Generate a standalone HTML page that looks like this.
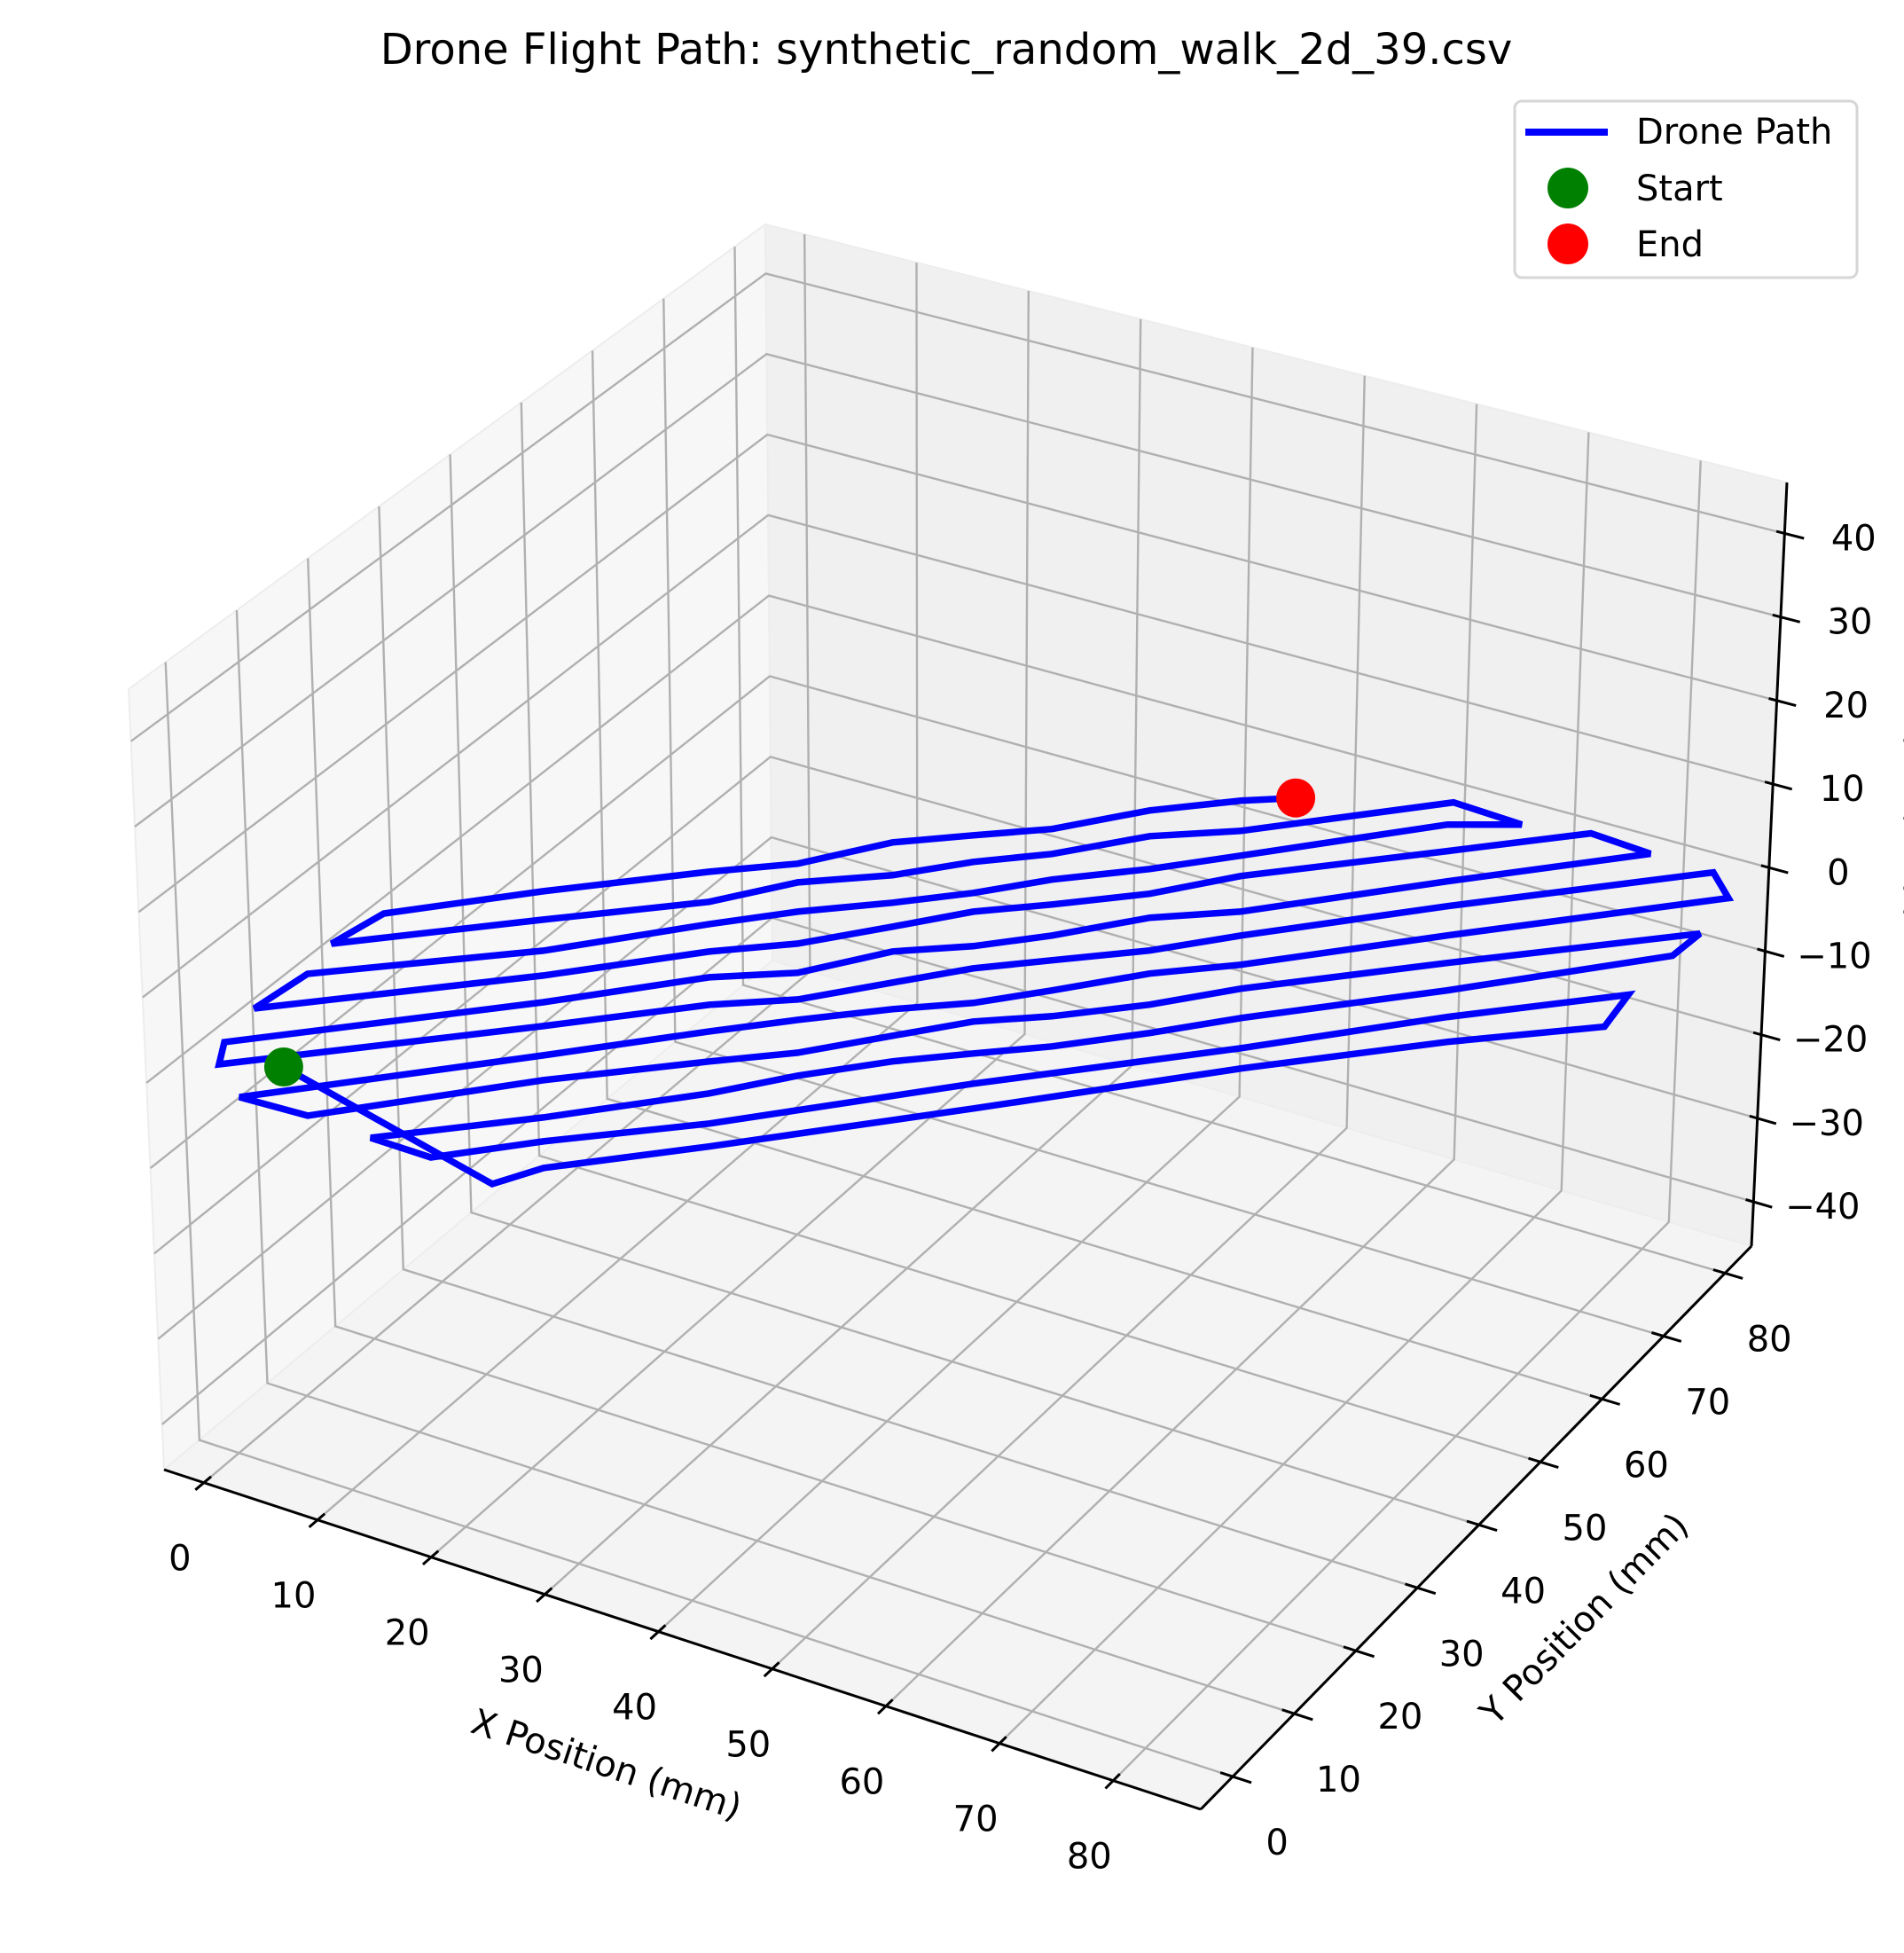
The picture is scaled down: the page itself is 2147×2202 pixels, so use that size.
<!DOCTYPE html>
<html><head><meta charset="utf-8"><title>Drone Flight Path</title>
<style>
html,body{margin:0;padding:0;background:#fff;}
svg{display:block;}
text{font-family:"DejaVu Sans","Liberation Sans",sans-serif;fill:#000;}
</style></head>
<body>
<svg id="chart" width="2147" height="2202" viewBox="0 0 2147 2202" xmlns="http://www.w3.org/2000/svg">
<text x="1067" y="72" font-size="48" text-anchor="middle">Drone Flight Path: synthetic_random_walk_2d_39.csv</text>
<g id="panes"></g>
<g id="grid"></g>
<g id="axes"></g>
<g id="plot"></g>
<text x="684" y="2003" font-size="40" text-anchor="middle" transform="rotate(18.2 684 1989)">X Position (mm)</text>
<text x="1786" y="1839" font-size="40" text-anchor="middle" transform="rotate(-45.6 1786 1825)">Y Position (mm)</text>
<text x="2163" y="997" font-size="40" text-anchor="middle" transform="rotate(-90 2163 983)">Z Position (mm)</text>
<g>
  <rect x="1708" y="114" width="386" height="199" rx="8" fill="#fff" fill-opacity="0.8" stroke="#d6d6d6" stroke-width="3"/>
  <line x1="1720" y1="149" x2="1813" y2="149" stroke="#0000ff" stroke-width="8"/>
  <text x="1845" y="162" font-size="40">Drone Path</text>
  <circle cx="1768" cy="212" r="23" fill="#008000"/>
  <text x="1845" y="226" font-size="40">Start</text>
  <circle cx="1768" cy="275" r="23" fill="#ff0000"/>
  <text x="1845" y="289" font-size="40">End</text>
</g>
</svg>
<script>
// ---- data (mm) ----
const pathX = [2.97,
 24.89,27.34,37.2,52.72,68.32,80.64,90.33,
 89.86,79.0,66.98,51.08,35.71,25.58,18.96,
 13.57,24.0,33.72,38.59,44.11,49.09,53.99,59.76,64.99,77.24,90.30,
 90.71,75.43,63.06,57.89,52.0,46.98,42.42,37.07,31.61,21.54,7.82,
 1.94,19.91,29.63,34.91,40.66,45.75,50.30,55.84,61.48,73.62,90.31,
 87.58,71.69,59.55,54.32,48.32,43.47,38.91,33.56,27.87,17.97,-1.61,
 -2.71,16.40,26.06,31.80,36.86,42.01,46.68,52.16,57.97,70.05,82.07,
 76.67,68.06,55.63,50.58,44.63,39.73,35.22,29.87,24.36,14.64,-2.89,
 -1.54,13.0,22.55,27.77,33.64,38.50,42.99,48.94,54.28,66.31,71.38,
 65.26,64.90,52.64,46.78,41.30,36.45,31.83,25.84,21.08,10.95,-1.90,
 -0.32,9.08,19.10,24.61,29.67,34.70,39.66,45.08,50.66,54.22];
const pathY = [2.30,
 -3.45,0.46,9.5,24.41,39.67,50.95,58.91,
 63.65,53.91,42.10,27.37,12.25,3.62,-2.70,
 -2.73,6.48,15.84,21.43,26.85,30.96,34.90,40.32,45.69,57.08,70.03,
 73.75,60.35,49.18,43.70,38.49,34.76,29.91,24.17,19.64,10.91,-2.56,
 -3.03,13.87,23.23,28.08,33.08,36.98,41.56,47.39,52.03,63.62,79.09,
 81.56,67.11,55.51,50.14,45.15,41.10,36.25,30.51,26.40,17.35,0.08,
 2.93,20.20,29.67,33.68,39.94,43.74,48.10,54.05,58.36,70.06,81.31,
 81.41,73.66,62.59,56.90,51.80,47.85,42.90,37.16,32.73,23.37,8.12,
 14.33,26.33,36.01,40.96,45.75,50.07,54.76,59.85,65.02,76.82,79.74,
 79.70,79.36,67.97,63.76,57.82,53.77,49.02,44.45,38.65,30.02,18.86,
 24.50,33.40,42.24,46.67,52.93,56.94,60.78,66.82,71.56,74.04];
const pathZ = pathX.map(function(){ return 0; });
const xTicks = [0,10,20,30,40,50,60,70,80];
const yTicks = [0,10,20,30,40,50,60,70,80];
const zTicks = [-40,-30,-20,-10,0,10,20,30,40];
const xLim = [-3.5, 87.7];
const yLim = [-5.2, 84.3];
const zLim = [-45.3, 46.1];

// ---- projection ----
const P000=[185,1657],P100=[1354,2040],P110=[1975,1405],P010=[871,1083];
const P001=[145,777],P101=[1374,1130],P111=[2015,544],P011=[863,253];
function bil(a,b,c,d,u,v){
  return [(1-u)*(1-v)*a[0]+u*(1-v)*b[0]+u*v*c[0]+(1-u)*v*d[0],
          (1-u)*(1-v)*a[1]+u*(1-v)*b[1]+u*v*c[1]+(1-u)*v*d[1]];
}
function T(u,v,w){
  const b=bil(P000,P100,P110,P010,u,v), t=bil(P001,P101,P111,P011,u,v);
  return [b[0]+(t[0]-b[0])*w, b[1]+(t[1]-b[1])*w];
}
function nx(x){return (x-xLim[0])/(xLim[1]-xLim[0]);}
function ny(y){return (y-yLim[0])/(yLim[1]-yLim[0]);}
function nz(z){return (z-zLim[0])/(zLim[1]-zLim[0]);}
function projData(x,y,z){
  const u=(x+3.9)/93.4, v=(y+5)/89;
  return [183+u*1172+v*618, 1227+u*386-v*639-z*9.5];
}

const NS='http://www.w3.org/2000/svg';
function mk(tag,attrs,parent){const e=document.createElementNS(NS,tag);for(const k in attrs)e.setAttribute(k,attrs[k]);parent.appendChild(e);return e;}
function pts(a){return a.map(p=>p[0].toFixed(1)+','+p[1].toFixed(1)).join(' ');}

const panes=document.getElementById('panes');
let el=mk('polygon',{points:pts([T(0,0,0),T(0,1,0),T(0,1,1),T(0,0,1)]),fill:'#f7f7f7',stroke:'#ededed','stroke-width':2},panes);


el=mk('polygon',{points:pts([T(0,1,0),T(1,1,0),T(1,1,1),T(0,1,1)]),fill:'#f0f0f0',stroke:'#ededed','stroke-width':2},panes);


el=mk('polygon',{points:pts([T(0,0,0),T(1,0,0),T(1,1,0),T(0,1,0)]),fill:'#f4f4f4',stroke:'#ededed','stroke-width':2},panes);



const grid=document.getElementById('grid');
const gs={fill:'none',stroke:'#b0b0b0','stroke-width':2.4};
xTicks.forEach(function(t){
  const u=nx(t);
  const g=mk('polyline',Object.assign({points:pts([T(u,0,0),T(u,1,0),T(u,1,1)])},gs),grid);
  
  
});
yTicks.forEach(function(t){
  const v=ny(t);
  const g=mk('polyline',Object.assign({points:pts([T(1,v,0),T(0,v,0),T(0,v,1)])},gs),grid);
  
  
});
zTicks.forEach(function(t){
  const w=nz(t);
  const g=mk('polyline',Object.assign({points:pts([T(0,0,w),T(0,1,w),T(1,1,w)])},gs),grid);
  
  
});

const axes=document.getElementById('axes');
const as={fill:'none',stroke:'#000','stroke-width':3};
el=mk('polyline',Object.assign({points:pts([T(0,0,0),T(1,0,0)])},as),axes);


el=mk('polyline',Object.assign({points:pts([T(1,0,0),T(1,1,0)])},as),axes);


el=mk('polyline',Object.assign({points:pts([T(1,1,0),T(1,1,1)])},as),axes);



xTicks.forEach(function(t){
  const u=nx(t);
  const tk=mk('polyline',Object.assign({points:pts([T(u,-0.014,0),T(u,0.012,0)])},as),axes);
  
  
  const p=T(u,0,0);
  const lb=mk('text',{x:(p[0]-27).toFixed(1),y:(p[1]+85+14).toFixed(1),'font-size':40,'text-anchor':'middle'},axes);
  lb.textContent=String(t);
  
  
});
yTicks.forEach(function(t){
  const v=ny(t);
  const tk=mk('polyline',Object.assign({points:pts([T(0.988,v,0),T(1.018,v,0)])},as),axes);
  
  
  const p=T(1,v,0);
  const lb=mk('text',{x:(p[0]+50).toFixed(1),y:(p[1]+74+14).toFixed(1),'font-size':40,'text-anchor':'middle'},axes);
  lb.textContent=String(t);
  
  
});
zTicks.forEach(function(t){
  const w=nz(t);
  const tk=mk('polyline',Object.assign({points:pts([T(0.992,1,w),T(1.019,1,w)])},as),axes);
  
  
  const p=T(1,1,w);
  const lb=mk('text',{x:(p[0]+78).toFixed(1),y:(p[1]+5+14).toFixed(1),'font-size':40,'text-anchor':'middle'},axes);
  lb.textContent=(t<0?'\u2212'+Math.abs(t):String(t));
  
  
});

const plot=document.getElementById('plot');
const pp=pathX.map(function(x,i){return projData(x,pathY[i],pathZ[i]);});
const line=mk('polyline',{points:pts(pp),fill:'none',stroke:'#0000ff','stroke-width':7.5,'stroke-linejoin':'miter','stroke-miterlimit':3},plot);


const s=pp[0], e=pp[pp.length-1];
const sm=mk('circle',{cx:s[0].toFixed(1),cy:s[1].toFixed(1),r:22,fill:'#008000'},plot);


const em=mk('circle',{cx:e[0].toFixed(1),cy:e[1].toFixed(1),r:22,fill:'#ff0000'},plot);


</script>
</body></html>
